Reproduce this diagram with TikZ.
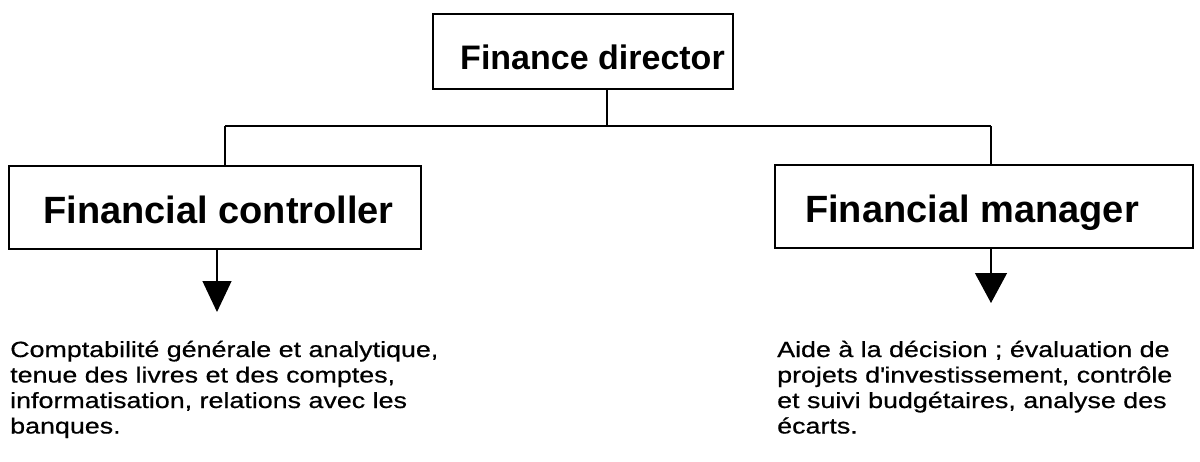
\documentclass[tikz,border=0pt]{standalone}
\usepackage{fontspec}
\setmainfont{Liberation Sans}
\newfontfamily\bodyfont[FakeStretch=1.22,FakeBold=0.6]{Liberation Sans}
\usetikzlibrary{arrows.meta}
\begin{document}
\begin{tikzpicture}[x=1pt,y=-1pt,
  box/.style={draw,line width=1.3pt,inner sep=0pt,text depth=0pt},
  link/.style={line width=1.3pt},
  desc/.style={anchor=base west,align=left,inner sep=0pt,
    font=\bodyfont\fontsize{22}{25.5}\selectfont}]
\useasboundingbox (0,0) rectangle (1200,461);

% the three posts
\node[box,minimum width=300pt,minimum height=75pt,text height=36pt,
  font=\bfseries\fontsize{34}{40}\selectfont] (dir) at (583,51.5)
  {\hspace*{19pt}Finance director};
\node[box,minimum width=412pt,minimum height=83pt,text height=31pt,
  font=\bfseries\fontsize{38}{44}\selectfont] (fc) at (215,207.5)
  {\hspace*{7pt}Financial controller};
\node[box,minimum width=418pt,minimum height=83pt,text height=31pt,
  font=\bfseries\fontsize{38}{44}\selectfont] (fm) at (984,206.5)
  {Financial manager\hspace*{24pt}};

% hierarchy lines
\coordinate (j) at (607,126);
\coordinate (jl) at (225,126);
\coordinate (jr) at (991,126);
\draw[link] (dir.south -| j) -- (j);
\draw[link] (jl) -- (jr);
\draw[link] (jl) -- (jl |- fc.north);
\draw[link] (jr) -- (jr |- fm.north);

% arrows towards the task descriptions
\coordinate (tl) at (217,312);
\coordinate (tr) at (991,303);
\draw[link,-{Triangle[width=29pt,length=31pt]}] (tl |- fc.south) -- (tl);
\draw[link,-{Triangle[width=32pt,length=30pt]}] (tr |- fm.south) -- (tr);

% task descriptions (anchored on the baseline of the last line)
\node[desc] (fctext) at (10,433.5) {Comptabilité générale et analytique,\\
tenue des livres et des comptes,\\
informatisation, relations avec les\\
banques.};
\node[desc] (fmtext) at (777,433.5) {Aide à la décision ; évaluation de\\
projets d\textquotesingle investissement, contrôle\\
et suivi budgétaires, analyse des\\
écarts.};
\end{tikzpicture}
\end{document}
